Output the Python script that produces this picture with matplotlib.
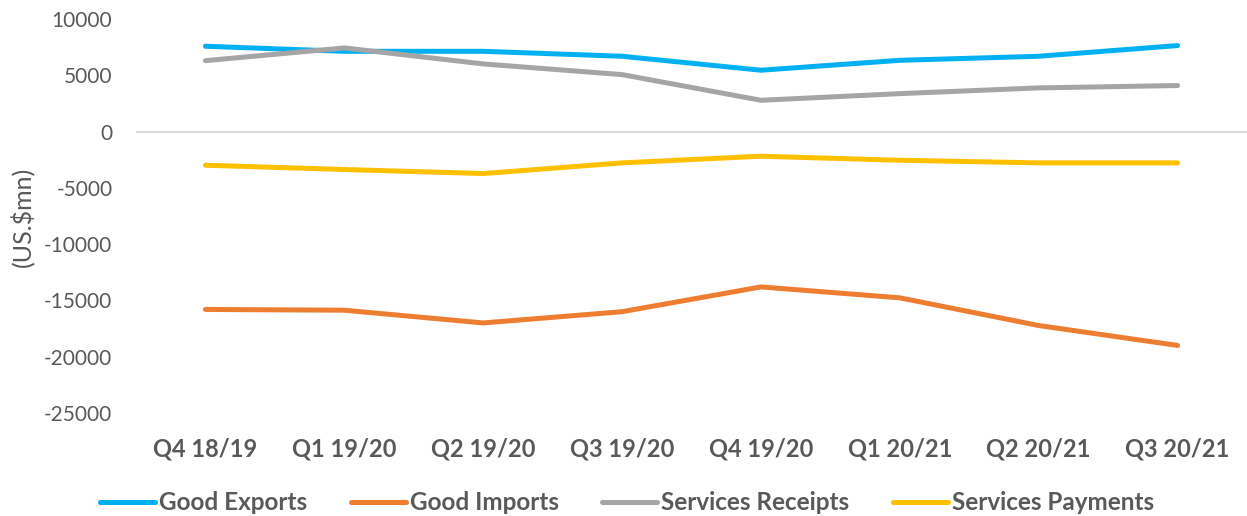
import matplotlib.pyplot as plt

quarters = ['Q4 18/19', 'Q1 19/20', 'Q2 19/20', 'Q3 19/20',
            'Q4 19/20', 'Q1 20/21', 'Q2 20/21', 'Q3 20/21']
good_exports = [7580, 7130, 7130, 6690, 5450, 6330, 6690, 7640]
good_imports = [-15800, -15870, -17000, -16000, -13800, -14770, -17230, -19000]
services_receipts = [6300, 7430, 6010, 5060, 2780, 3370, 3880, 4090]
services_payments = [-2990, -3370, -3730, -2780, -2190, -2550, -2780, -2780]

plt.rcParams['font.family'] = ['Lato', 'DejaVu Sans']
plt.rcParams['axes.unicode_minus'] = False
grey_text = '#595959'

fig = plt.figure(figsize=(12.47, 5.16), dpi=100)
ax = fig.add_axes([136 / 1247, 1 - 413 / 516, 1111 / 1247, 394 / 516])

x = range(len(quarters))
series = [
    ('Good Exports', good_exports, '#00B0F0'),
    ('Good Imports', good_imports, '#ED7D31'),
    ('Services Receipts', services_receipts, '#A5A5A5'),
    ('Services Payments', services_payments, '#FFC000'),
]
for name, vals, col in series:
    ax.plot(x, vals, color=col, lw=3.6, solid_capstyle='round',
            solid_joinstyle='round', label=name)

ax.axhline(0, color='#D9D9D9', lw=1.5, zorder=0)
ax.set_xlim(-0.5, len(quarters) - 0.5)
ax.set_ylim(-25000, 10000)
ax.set_yticks(range(-25000, 10001, 5000))
ax.set_xticks(list(x))
ax.set_xticklabels(quarters, fontweight='bold')
ax.tick_params(axis='both', length=0, colors=grey_text)
ax.tick_params(axis='x', pad=18, labelsize=17)
ax.tick_params(axis='y', pad=17, labelsize=15)
for s in ax.spines.values():
    s.set_visible(False)

fig.text(22 / 1247, 1 - 217 / 516, '(US.$mn)', rotation=90, fontsize=18,
         color=grey_text, ha='center', va='center')

leg = fig.legend(loc='center', bbox_to_anchor=(627 / 1247, 1 - 503 / 516),
                 ncol=4, frameon=False, handlelength=2.26, handletextpad=0.16,
                 columnspacing=1.8,
                 prop={'size': 17.5, 'weight': 'bold'})
for t in leg.get_texts():
    t.set_color(grey_text)

fig.savefig('out.png', dpi=100)
